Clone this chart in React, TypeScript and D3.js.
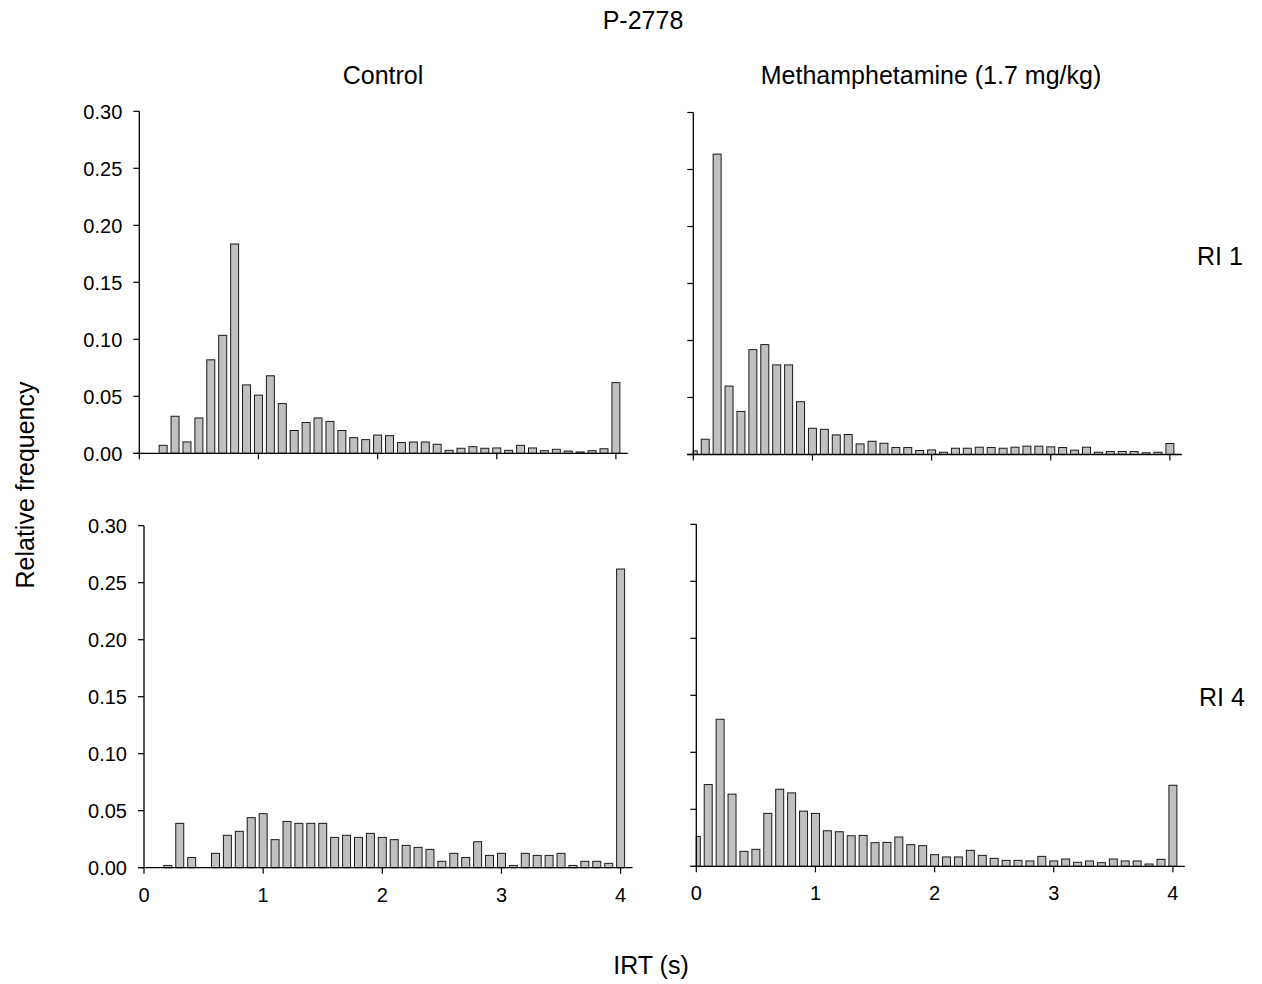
import React from "react";
import * as d3 from "d3";

const binCenters: number[] = d3.range(0, 41).map((i) => i / 10);

const controlRI1: number[] = [
  0, 0, 0.007, 0.0325, 0.010, 0.031, 0.082, 0.1035, 0.1836, 0.060,
  0.051, 0.068, 0.0436, 0.020, 0.027, 0.031, 0.028, 0.020, 0.0137, 0.012,
  0.016, 0.0155, 0.0094, 0.0099, 0.0099, 0.0079, 0.0026, 0.0044, 0.0058, 0.0044,
  0.0047, 0.0026, 0.007, 0.0047, 0.0023, 0.0035, 0.002, 0.0012, 0.0023, 0.004,
  0.062,
];

const methRI1: number[] = [
  0.0032, 0.0134, 0.2635, 0.060, 0.0378, 0.092, 0.0964, 0.0786, 0.0786, 0.0463,
  0.023, 0.0221, 0.0172, 0.0175, 0.0093, 0.0116, 0.0099, 0.0061, 0.0061, 0.0035,
  0.004, 0.002, 0.0055, 0.0055, 0.0064, 0.0061, 0.0055, 0.0064, 0.0073, 0.0073,
  0.0067, 0.0061, 0.0038, 0.0064, 0.002, 0.0026, 0.0026, 0.0026, 0.0015, 0.002,
  0.0096,
];

const controlRI4: number[] = [
  0, 0, 0.002, 0.0389, 0.009, 0, 0.0126, 0.0284, 0.0319, 0.0439,
  0.0474, 0.0246, 0.0406, 0.0389, 0.0389, 0.0389, 0.0266, 0.0284, 0.0266, 0.0301,
  0.0266, 0.0246, 0.0196, 0.0178, 0.0161, 0.0056, 0.0126, 0.009, 0.0228, 0.0108,
  0.0126, 0.002, 0.0126, 0.0108, 0.0108, 0.0126, 0.002, 0.0056, 0.0056, 0.0038,
  0.262,
];

const methRI4: number[] = [
  0.0262, 0.0717, 0.129, 0.0633, 0.0131, 0.0149, 0.0464, 0.0676, 0.0644, 0.0484,
  0.0464, 0.0312, 0.0303, 0.0268, 0.0271, 0.0207, 0.021, 0.0257, 0.019, 0.0181,
  0.0102, 0.0082, 0.0082, 0.014, 0.0096, 0.007, 0.0052, 0.0052, 0.0047, 0.0087,
  0.0047, 0.0064, 0.0035, 0.0047, 0.0032, 0.0064, 0.0047, 0.0047, 0.002, 0.0061,
  0.0711,
];

const yTicks: number[] = [0, 0.05, 0.1, 0.15, 0.2, 0.25, 0.3];
const xTicks: number[] = [0, 1, 2, 3, 4];

const chartTitle = "P-2778";
const columnTitles = ["Control", "Methamphetamine (1.7 mg/kg)"];
const rowTitles = ["RI 1", "RI 4"];
const xAxisTitle = "IRT (s)";
const yAxisTitle = "Relative frequency";

const FONT = "'Liberation Sans', Arial, Helvetica, sans-serif";

type PanelProps = {
  values: number[];
  left: number;
  baseline: number;
  showYLabels: boolean;
  showXLabels: boolean;
};

const Panel: React.FC<PanelProps> = ({ values, left, baseline, showYLabels, showXLabels }) => {
  const unit = 119.15;
  const x = d3.scaleLinear().domain([0, 4]).range([left, left + 4 * unit]);
  const y = d3.scaleLinear().domain([0, 0.3]).range([baseline, baseline - 342]);
  const step = x(0.1) - x(0);
  const bw = step * 0.67;
  const fmt = d3.format(".2f");
  return (
    <g>
      {values.map((v, i) => {
        if (v <= 0) return null;
        const cx = x(binCenters[i]);
        let x0 = cx - bw / 2;
        const x1 = cx + bw / 2;
        if (x0 < x(0)) x0 = x(0);
        return (
          <rect
            key={i}
            x={x0}
            y={y(v)}
            width={x1 - x0}
            height={y(0) - y(v)}
            fill="#c0c0c0"
            stroke="#1a1a1a"
            strokeWidth={1}
          />
        );
      })}
      {/* y axis */}
      <line x1={x(0)} x2={x(0)} y1={y(0.3)} y2={y(0)} stroke="#000" strokeWidth={1.3} />
      {yTicks.map((t) => (
        <g key={"y" + t}>
          <line x1={x(0) - 6} x2={x(0)} y1={y(t)} y2={y(t)} stroke="#000" strokeWidth={1.2} />
          {showYLabels && (
            <text
              x={x(0) - 17}
              y={y(t)}
              dy="0.36em"
              textAnchor="end"
              fontSize={20}
              fontFamily={FONT}
              fill="#000"
            >
              {fmt(t)}
            </text>
          )}
        </g>
      ))}
      {/* x axis */}
      <line x1={x(0) - 6} x2={x(4.1)} y1={y(0)} y2={y(0)} stroke="#000" strokeWidth={1.3} />
      {xTicks.map((t) => (
        <g key={"x" + t}>
          <line x1={x(t)} x2={x(t)} y1={y(0)} y2={y(0) + 6} stroke="#000" strokeWidth={1.2} />
          {showXLabels && (
            <text
              x={x(t)}
              y={y(0) + 34}
              textAnchor="middle"
              fontSize={20}
              fontFamily={FONT}
              fill="#000"
            >
              {t}
            </text>
          )}
        </g>
      ))}
    </g>
  );
};

export default function App() {
  return (
    <svg
      width={1262}
      height={984}
      style={{ position: "absolute", left: 0, top: 0, background: "#fff" }}
    >
      <rect x={0} y={0} width={1262} height={984} fill="#fff" />
      <text x={643} y={29} textAnchor="middle" fontSize={25} fontFamily={FONT}>
        {chartTitle}
      </text>
      <text x={383} y={84} textAnchor="middle" fontSize={25} fontFamily={FONT}>
        {columnTitles[0]}
      </text>
      <text x={931} y={83.5} textAnchor="middle" fontSize={25} fontFamily={FONT}>
        {columnTitles[1]}
      </text>
      <text x={1220} y={265} textAnchor="middle" fontSize={25} fontFamily={FONT}>
        {rowTitles[0]}
      </text>
      <text x={1222} y={706} textAnchor="middle" fontSize={25} fontFamily={FONT}>
        {rowTitles[1]}
      </text>
      <text x={651} y={974} textAnchor="middle" fontSize={25} fontFamily={FONT}>
        {xAxisTitle}
      </text>
      <text
        transform={`translate(34, 485) rotate(-90)`}
        textAnchor="middle"
        fontSize={25}
        fontFamily={FONT}
      >
        {yAxisTitle}
      </text>

      <Panel values={controlRI1} left={139.3} baseline={453.3} showYLabels={true} showXLabels={false} />
      <Panel values={methRI1} left={693.3} baseline={454.5} showYLabels={false} showXLabels={false} />
      <Panel values={controlRI4} left={144} baseline={867.7} showYLabels={true} showXLabels={true} />
      <Panel values={methRI4} left={696.3} baseline={866.3} showYLabels={false} showXLabels={true} />
    </svg>
  );
}
